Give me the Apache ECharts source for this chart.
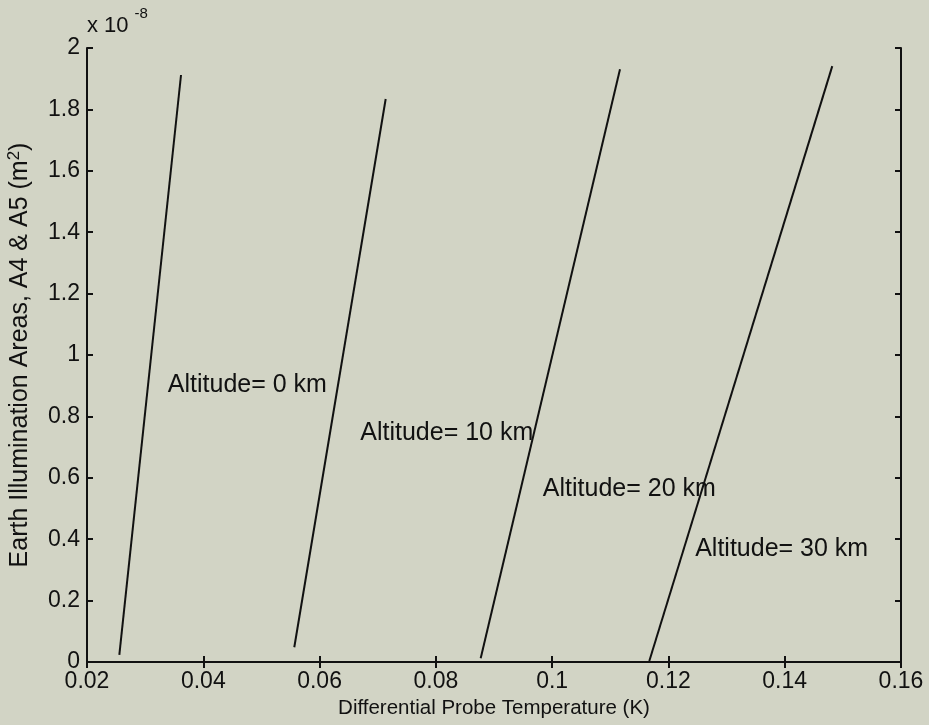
<!DOCTYPE html>
<html>
<head>
<meta charset="utf-8">
<script src="https://cdn.jsdelivr.net/npm/echarts@6/dist/echarts.min.js"></script>
<style>
  html, body { margin: 0; padding: 0; background: #d2d4c5; }
  #chart { width: 929px; height: 725px; }
</style>
</head>
<body>
<div id="chart"></div>
<script>
// Differential probe temperature (K) at the two ends of each curve
const temp0km  = [0.02556, 0.03617];
const temp10km = [0.05565, 0.07137];
const temp20km = [0.08771, 0.11167];
const temp30km = [0.11671, 0.14818];
// Earth illumination area A4 & A5, in units of 1e-8 m^2
const area0km  = [0.023, 1.912];
const area10km = [0.048, 1.834];
const area20km = [0.012, 1.931];
const area30km = [0.003, 1.941];

const altitudeLabels = ['Altitude= 0 km', 'Altitude= 10 km', 'Altitude= 20 km', 'Altitude= 30 km'];
const labelX = [0.0339, 0.0670, 0.0984, 0.1246];
const labelY = [0.902, 0.746, 0.5635, 0.368];

const FONT = 'Liberation Sans, Arial, sans-serif';
const INK = '#111111';

function pairs(xs, ys) { return xs.map((x, i) => [x, ys[i]]); }

const curves = [
  pairs(temp0km, area0km),
  pairs(temp10km, area10km),
  pairs(temp20km, area20km),
  pairs(temp30km, area30km)
];

const lineSeries = curves.map(d => ({
  type: 'line',
  data: d,
  symbol: 'none',
  lineStyle: { color: INK, width: 2 },
  silent: true
}));

const labelSeries = {
  type: 'scatter',
  data: altitudeLabels.map((t, i) => ({ value: [labelX[i], labelY[i]], name: t })),
  symbolSize: 0,
  silent: true,
  itemStyle: { opacity: 1 },
  label: {
    show: true,
    position: 'right',
    distance: 0,
    formatter: p => p.name,
    color: INK,
    opacity: 1,
    fontFamily: FONT,
    fontSize: 25
  }
};

const fmtTick = v => String(Math.round(v * 100) / 100);

const axisCommon = {
  axisLine: { show: true, lineStyle: { color: INK, width: 2 } },
  axisTick: { show: true, inside: true, length: 6, lineStyle: { color: INK, width: 2 } },
  splitLine: { show: false }
};

const chart = echarts.init(document.getElementById('chart'));
chart.setOption({
  backgroundColor: '#d2d4c5',
  animation: false,
  grid: { left: 87, right: 28, top: 48, bottom: 63, containLabel: false, outerBoundsMode: 'none' },
  xAxis: [
    Object.assign({
      type: 'value', min: 0.02, max: 0.16, interval: 0.02, position: 'bottom',
      name: 'Differential Probe Temperature (K)',
      nameLocation: 'middle', nameGap: 36,
      nameTextStyle: { color: INK, fontFamily: FONT, fontSize: 20.5 },
      axisLabel: { color: INK, fontFamily: FONT, fontSize: 23, margin: 8, formatter: fmtTick }
    }, axisCommon),
    Object.assign({
      type: 'value', min: 0.02, max: 0.16, interval: 0.02, position: 'top',
      axisLabel: { show: false }
    }, axisCommon)
  ],
  yAxis: [
    Object.assign({
      type: 'value', min: 0, max: 2, interval: 0.2, position: 'left',
      name: '{t|Earth Illumination Areas, A4 & A5 (m}{s|2}{t|)}',
      nameLocation: 'middle', nameGap: 52, nameRotate: 90,
      nameTextStyle: {
        rich: {
          t: { color: INK, fontFamily: FONT, fontSize: 25 },
          s: { color: INK, fontFamily: FONT, fontSize: 17, verticalAlign: 'top', padding: [0, 0, 12, 0] }
        }
      },
      axisLabel: { color: INK, fontFamily: FONT, fontSize: 23, margin: 7, formatter: fmtTick }
    }, axisCommon),
    Object.assign({
      type: 'value', min: 0, max: 2, interval: 0.2, position: 'right',
      axisLabel: { show: false }
    }, axisCommon)
  ],
  graphic: [{
    type: 'text',
    left: 87,
    top: 6,
    style: {
      text: '{t|x 10}{s|-8}',
      rich: {
        t: { fontFamily: FONT, fontSize: 22, fill: INK, padding: [14, 0, 0, 0] },
        s: { fontFamily: FONT, fontSize: 15, fill: INK, padding: [0, 0, 10, 6] }
      }
    }
  }],
  series: lineSeries.concat([labelSeries])
});
</script>
</body>
</html>
